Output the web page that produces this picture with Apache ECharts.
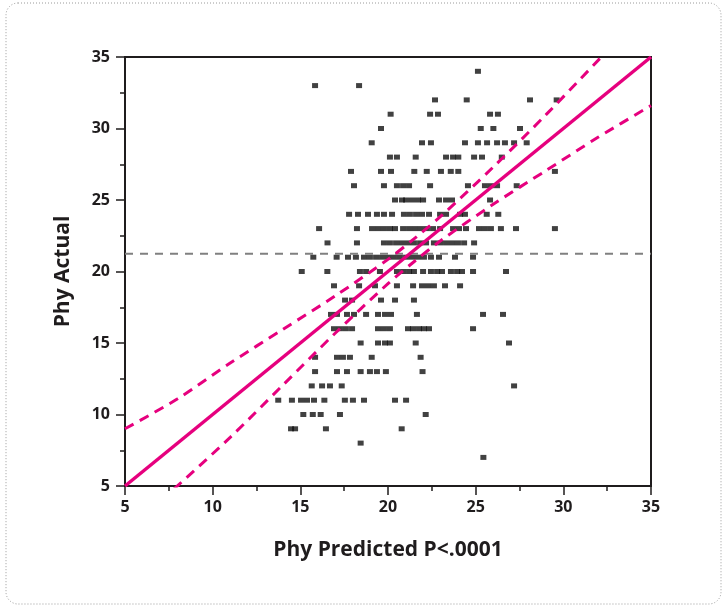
<!DOCTYPE html>
<html>
<head>
<meta charset="utf-8">
<script src="https://cdn.jsdelivr.net/npm/echarts@6/dist/echarts.min.js"></script>
<style>
  html, body { margin: 0; padding: 0; background: #fff; }
  #chart { width: 723px; height: 607px; }
</style>
</head>
<body>
<div id="chart"></div>
<script>
// actual by predicted, one row of predicted values per actual score
var actualLevels = [34, 33, 32, 31, 30, 29, 28, 27, 26, 25, 24, 23, 22, 21, 20, 19, 18, 17, 16, 15, 14, 13, 12, 11, 10, 9, 8, 7];
var predictedRows = [
  [25.13],
  [15.84, 18.35],
  [22.68, 24.49, 28.10, 29.62],
  [20.15, 22.40, 22.85, 25.82, 26.27],
  [19.60, 25.29, 26.01, 27.53],
  [19.07, 21.94, 22.45, 24.39, 25.13, 25.65, 26.22, 26.67, 27.19, 27.91],
  [20.11, 20.51, 21.58, 23.31, 23.71, 24.01, 24.91, 25.36, 26.49],
  [17.89, 19.60, 20.17, 21.50, 22.21, 23.02, 23.58, 24.01, 29.52],
  [18.06, 19.77, 20.51, 20.86, 21.20, 22.40, 24.56, 25.53, 25.87, 26.22, 27.34],
  [20.40, 20.80, 21.03, 21.37, 21.71, 22.00, 22.91, 23.31, 23.65, 25.82],
  [17.78, 18.29, 18.86, 19.37, 19.77, 20.23, 20.91, 21.25, 21.60, 21.94, 22.34, 22.97, 23.31, 24.11, 24.39, 25.63, 26.29],
  [16.07, 18.23, 19.09, 19.43, 19.77, 20.11, 20.40, 20.86, 21.20, 21.54, 21.88, 22.22, 22.57, 22.97, 23.71, 24.05, 24.45, 25.19, 25.53, 25.87, 26.44, 27.30, 29.52],
  [16.55, 18.23, 19.77, 20.11, 20.46, 20.80, 21.14, 21.48, 21.83, 22.17, 22.62, 22.97, 23.31, 23.65, 23.99, 24.34, 24.91],
  [15.74, 17.07, 17.72, 18.17, 18.63, 18.97, 19.32, 19.66, 20.00, 20.34, 20.68, 21.03, 21.37, 21.71, 22.05, 22.45, 22.91, 23.82, 24.85],
  [15.08, 16.54, 18.40, 18.75, 19.54, 20.51, 20.86, 21.20, 21.48, 22.00, 22.45, 22.80, 23.08, 23.59, 23.94, 24.22, 24.85, 26.73],
  [16.92, 18.35, 19.26, 20.51, 21.43, 21.94, 22.28, 22.62, 23.25, 24.11],
  [17.55, 17.95, 19.60, 20.40, 21.48],
  [16.75, 17.09, 17.66, 18.06, 18.75, 19.43, 19.83, 20.17, 21.65, 25.42, 26.56],
  [16.92, 17.26, 17.60, 17.95, 19.43, 19.77, 20.11, 21.14, 21.43, 21.77, 22.05, 22.34, 24.85],
  [18.44, 19.43, 19.83, 20.11, 21.58, 26.90],
  [15.84, 17.09, 17.43, 17.83, 19.07, 21.86],
  [15.84, 17.09, 17.66, 18.44, 18.97, 19.37, 19.88, 21.97],
  [15.65, 16.24, 16.69, 17.36, 27.19],
  [13.74, 14.52, 15.04, 15.38, 15.78, 16.37, 17.54, 18.00, 18.63, 20.40, 21.03],
  [15.17, 15.71, 16.16, 17.26, 22.15],
  [14.47, 14.70, 16.46, 20.78],
  [18.44],
  [25.44]
];

// fit line, confidence curves and mean of actual
var fitLine = [[5, 5], [35, 35]];
var upperCurveX = [5, 8, 11, 14, 17, 20, 21.5, 23, 26, 29, 32.4];
var upperCurveY = [9.0, 11.1, 13.6, 15.95, 18.3, 20.85, 22.3, 23.85, 27.3, 30.95, 35.3];
var lowerCurveX = [7.8, 11, 14, 17, 20, 21.5, 23, 26, 29, 32, 35];
var lowerCurveY = [4.8, 8.4, 12.05, 15.7, 19.15, 20.7, 22.15, 24.7, 27.05, 29.4, 31.6];
var meanActual = 21.25;
var tickValues = [5, 10, 15, 20, 25, 30, 35];

var points = [];
actualLevels.forEach(function (y, i) {
  predictedRows[i].forEach(function (x) {
    points.push([x, y]);
  });
});
var zip = function (xs, ys) {
  return xs.map(function (x, i) { return [x, ys[i]]; });
};

var ink = '#1f1c1d';
var pink = '#e6007e';
var chart = echarts.init(document.getElementById('chart'));

var axisCommon = {
  type: 'value',
  min: tickValues[0],
  max: tickValues[tickValues.length - 1],
  interval: 5,
  nameLocation: 'middle',
  nameTextStyle: { fontFamily: 'Open Sans', fontWeight: 'bold', fontSize: 21, color: ink },
  axisLine: { show: true, onZero: false, lineStyle: { color: ink, width: 2 } },
  axisTick: { show: true, inside: false, length: 9, lineStyle: { color: ink, width: 1.5 } },
  minorTick: { show: true, splitNumber: 2, length: 5, lineStyle: { color: ink, width: 1.5 } },
  splitLine: { show: false },
  axisLabel: { fontFamily: 'Open Sans', fontWeight: 'bold', fontSize: 16, color: ink }
};

chart.setOption({
  animation: false,
  backgroundColor: '#fff',
  graphic: [{
    type: 'rect',
    shape: { x: 6, y: 3, width: 715, height: 601, r: 12 },
    style: { fill: 'none', stroke: '#9a9a9a', lineWidth: 1, lineDash: [1, 2] },
    silent: true
  }],
  grid: {
    left: 125, right: 72, top: 57, bottom: 121,
    show: true, borderColor: ink, borderWidth: 2, backgroundColor: 'transparent'
  },
  xAxis: Object.assign({}, axisCommon, {
    name: 'Phy Predicted P<.0001',
    nameGap: 54,
    axisLabel: Object.assign({}, axisCommon.axisLabel, { margin: 13 })
  }),
  yAxis: Object.assign({}, axisCommon, {
    name: 'Phy Actual',
    nameGap: 51,
    axisLabel: Object.assign({}, axisCommon.axisLabel, { margin: 15 })
  }),
  series: [{
    type: 'scatter',
    data: points,
    symbol: 'rect',
    symbolSize: [6, 5],
    itemStyle: { color: '#111' },
    z: 2
  }, {
    type: 'line',
    data: [[tickValues[0], meanActual], [tickValues[tickValues.length - 1], meanActual]],
    symbol: 'none',
    lineStyle: { color: '#808080', width: 2, type: [8, 7] },
    z: 3
  }, {
    type: 'line',
    data: fitLine,
    symbol: 'none',
    clip: true,
    lineStyle: { color: pink, width: 3.5 },
    z: 4
  }, {
    type: 'line',
    data: zip(upperCurveX, upperCurveY),
    symbol: 'none',
    smooth: 0.3,
    clip: true,
    lineStyle: { color: pink, width: 3, type: [10, 7] },
    z: 4
  }, {
    type: 'line',
    data: zip(lowerCurveX, lowerCurveY),
    symbol: 'none',
    smooth: 0.3,
    clip: true,
    lineStyle: { color: pink, width: 3, type: [10, 7] },
    z: 4
  }]
});
</script>
</body>
</html>
